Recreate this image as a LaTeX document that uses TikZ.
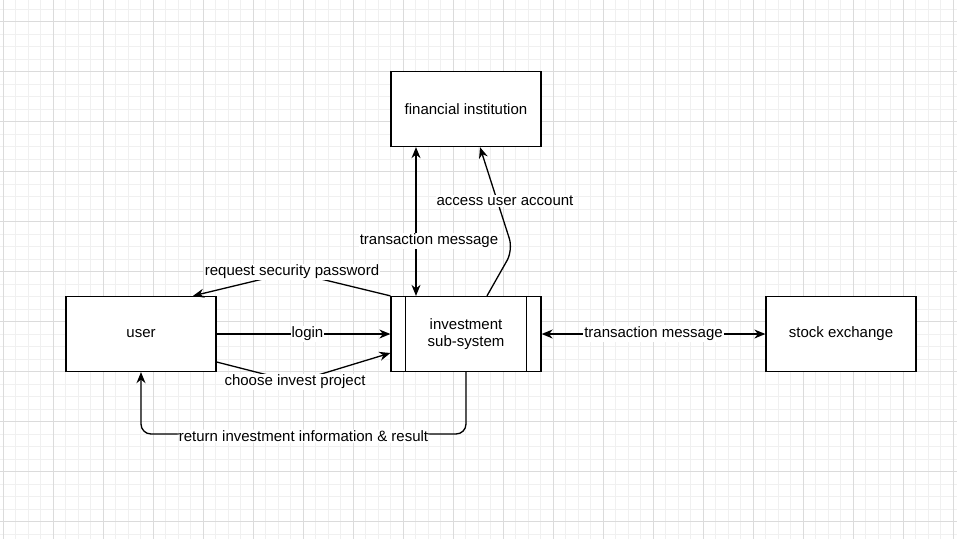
\documentclass[tikz,border=0pt]{standalone}
\usepackage{fontspec}
\setmainfont{Liberation Sans}
\usetikzlibrary{arrows.meta}
\tikzset{
  entity/.style={draw, line width=1.3pt, fill=white, minimum width=150pt, minimum height=75pt,
    align=center, font=\fontsize{15}{17}\selectfont},
  flow/.style={line width=1.3pt, -{Stealth[length=11pt,width=9pt]}},
  dflow/.style={line width=1.3pt, {Stealth[length=11pt,width=9pt]}-{Stealth[length=11pt,width=9pt]}},
  msg/.style={fill=white, inner sep=1pt, font=\fontsize{15}{17}\selectfont},
  minorline/.style={draw=black!6, line width=1.2pt},
  majorline/.style={draw=black!14, line width=1.2pt}
}
\begin{document}
\begin{tikzpicture}[x=1pt,y=-1pt]
        \useasboundingbox[fill=white] (0,0) rectangle (957,539);
        % background grid
        \foreach \i in {0,...,76} \draw[minorline] ({3.3+12.5*\i},0) -- ++(0,539);
        \foreach \j in {0,...,42} \draw[minorline] (0,{9.2+12.5*\j}) -- ++(957,0);
        \foreach \i in {0,...,19} \draw[majorline] ({3.3+50*\i},0) -- ++(0,539);
        \foreach \j in {0,...,10} \draw[majorline] (0,{21.7+50*\j}) -- ++(957,0);

        \node[entity] (bank) at (466,109) {financial institution};
        \node[entity] (user) at (141,334) {user};
        \node[entity] (invest) at (466,334) {investment\\sub-system};
        \node[entity] (stock) at (841,334) {stock exchange};
        \draw[line width=1.3pt] ([xshift=15pt]invest.north west) -- ([xshift=15pt]invest.south west);
        \draw[line width=1.3pt] ([xshift=-15pt]invest.north east) -- ([xshift=-15pt]invest.south east);

        \coordinate (bend) at (513,250);
        \coordinate (ret) at (141,434);

        \draw[dflow] ([xshift=-50pt]bank.south) -- node[msg, pos=0.63, xshift=13pt]{transaction message} ([xshift=-50pt]invest.north);
        \draw[flow, rounded corners=12pt] ([xshift=21pt]invest.north) -- (bend) -- ([xshift=14pt]bank.south);
        \node[msg] (access) at (505,201) {access user account};
        \draw[flow] (invest.north west) -- (292,272) node[msg]{request security password} -- ([xshift=52pt]user.north);
        \draw[flow] (user) -- node[msg, xshift=4pt]{login} (invest);
        \draw[flow] ([yshift=-28pt]user.east) -- (295,382) node[msg]{choose invest project} -- ([yshift=-19pt]invest.west);
        \draw[flow, rounded corners=10pt] (invest.south) |- node[msg, pos=0.75, yshift=-2pt]{return investment information \& result} (ret) -- (user.south);
        \draw[dflow] (invest) -- node[msg]{transaction message} (stock);
\end{tikzpicture}
\end{document}
